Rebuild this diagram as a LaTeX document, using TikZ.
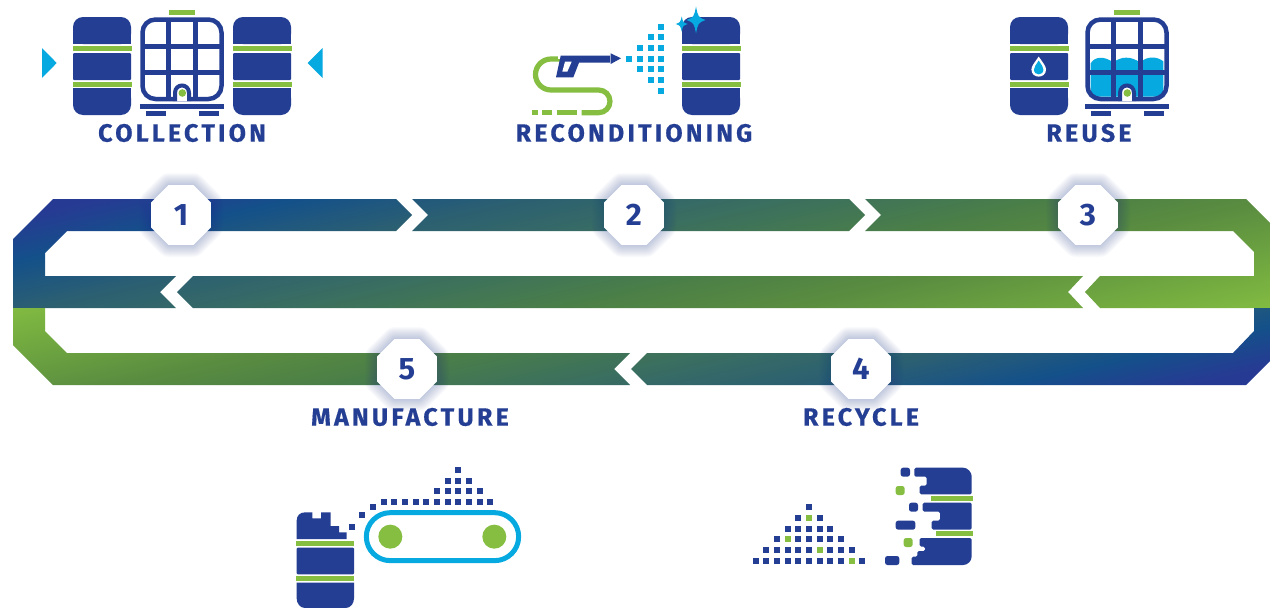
\documentclass[tikz,border=0pt]{standalone}
\usepackage{fontspec}
\usetikzlibrary{shapes.geometric}
\newfontfamily\dinfont[LetterSpace=13,BoldFeatures={FakeBold=0.5}]{Fira Sans}
\newfontfamily\numfont{Fira Sans}
\definecolor{navy}{HTML}{233E93}
\definecolor{leaf}{HTML}{85BE41}
\definecolor{aqua}{HTML}{06A9E0}
\definecolor{ga}{HTML}{273A93}
\definecolor{gb}{HTML}{14508A}
\definecolor{gc}{HTML}{2B5F72}
\definecolor{gd}{HTML}{366A66}
\definecolor{ge}{HTML}{4C8046}
\definecolor{gf}{HTML}{5A8C40}
\definecolor{gg}{HTML}{6DA440}
\definecolor{gh}{HTML}{82BB41}
\pgfdeclareverticalshading{bandgrad}{100bp}{%
  color(0bp)=(gh); color(25bp)=(gh); color(32bp)=(gg); color(39bp)=(gf);
  color(44.7bp)=(ge); color(55.2bp)=(gd); color(60.5bp)=(gc);
  color(66.8bp)=(gb); color(72.5bp)=(ga); color(100bp)=(ga)}
\newcommand{\sparkle}[4]{%
  \fill[aqua] (#1,#2-#4) .. controls (#1+.22*#3,#2-.22*#4) .. (#1+#3,#2)
    .. controls (#1+.22*#3,#2+.22*#4) .. (#1,#2+#4)
    .. controls (#1-.22*#3,#2+.22*#4) .. (#1-#3,#2)
    .. controls (#1-.22*#3,#2-.22*#4) .. cycle;}
\tikzset{
  label text/.style={font=\dinfont\bfseries\fontsize{25}{25}\selectfont,text=navy,inner sep=0pt,anchor=center},
  octa/.style={regular polygon,regular polygon sides=8,minimum size=64.9pt,
    inner sep=0pt,fill=white,text=navy,font=\numfont\bfseries\fontsize{31}{31}\selectfont},
  zoomed/.style={x=0.33333pt,y=-0.33333pt},
  barrelicon/.pic={
    \fill[navy,rounded corners=10pt] (0,0) rectangle (58,27);
    \fill[navy] (0,14) rectangle (58,27);
    \fill[leaf] (-.5,29) rectangle (58.5,34);
    \fill[navy,rounded corners=1pt] (0,36) rectangle (58,63);
    \fill[leaf] (-.5,65) rectangle (58.5,70);
    \fill[navy,rounded corners=10pt] (0,71) rectangle (58,98);
    \fill[navy] (0,71) rectangle (58,85);
  },
  toteicon/.pic={
    \fill[leaf] (29,0) rectangle (55,5);
    \draw[navy,line width=4.5pt,rounded corners=13pt] (2.5,9.5) rectangle (81.5,89);
    \draw[navy,line width=4.5pt] (2.5,36.3) -- (81.5,36.3) (2.5,62.3) -- (81.5,62.3)
      (28.5,9.5) -- (28.5,89) (55.5,9.5) -- (55.5,89);
    \fill[white] (35,91) -- (35,83) .. controls (35,73) and (49,73) .. (49,83) -- (49,91) -- cycle;
    \draw[navy,line width=4pt] (35,91) -- (35,83) .. controls (35,73) and (49,73) .. (49,83) -- (49,91);
    \fill[leaf] (42.3,83) circle[radius=3.8pt];
    \fill[navy] (0,94) rectangle (84,99);
    \fill[navy] (6,101) rectangle (26,106);
    \fill[navy] (59,101) rectangle (79,106);
  }
}
\begin{document}
\begin{tikzpicture}[x=1pt,y=-1pt]
\useasboundingbox (0,0) rectangle (1270,608);
\fill[white] (0,0) rectangle (1270,608);

% ---- upper band
\begin{scope}
\clip (13,308) -- (13,239) -- (53,199) -- (396,199) -- (412,215) -- (396,231) -- (67,231) -- (45,253) -- (45,276) -- (176,276) -- (160,292) -- (176,308) -- cycle
      (412,199) -- (849,199) -- (865,215) -- (849,231) -- (412,231) -- (428,215) -- cycle
      (865,199) -- (1246,199) -- (1270,223) -- (1270,308) -- (1100,308) -- (1085,292) -- (1100,276) -- (1254,276) -- (1254,252) -- (1233,231) -- (865,231) -- (881,215) -- cycle
      (193,276) -- (1083,276) -- (1068,292) -- (1083,308) -- (193,308) -- (177,292) -- cycle;
\begin{scope}[transform canvas={rotate around={12.5:(641,253)}}]
\shade[shading=bandgrad] (-359,63) rectangle (1641,443);
\end{scope}
\end{scope}
% ---- lower band
\begin{scope}
\clip (13,308) -- (45,308) -- (45,331) -- (67,353) -- (630,353) -- (614,369) -- (630,385) -- (53,385) -- (13,345) -- cycle
      (1254,308) -- (1270,308) -- (1270,361) -- (1246,385) -- (647,385) -- (631,369) -- (647,353) -- (1233,353) -- (1254,331) -- cycle;
\begin{scope}[transform canvas={rotate around={192.5:(641,346)}}]
\shade[shading=bandgrad] (-359,172) rectangle (1641,520);
\end{scope}
\end{scope}

% ---- glow round the number plates
\foreach \cx/\cy in {181/215,634/215,1088/215,861/369,407/369}{
  \foreach \w in {2,4,...,24}{
    \draw[navy,opacity=.022,line width=\w pt,line join=round,shift={(\cx,\cy)}]
      (-30,-12.4) -- (-12.4,-30) -- (12.4,-30) -- (30,-12.4) -- (30,12.4) -- (12.4,30) -- (-12.4,30) -- (-30,12.4) -- cycle;
  }
}
\node[octa] (n1) at (181,215) {1};
\node[octa] (n2) at (634,215) {2};
\node[octa] (n3) at (1088,215) {3};
\node[octa] (n4) at (861,369) {4};
\node[octa] (n5) at (407,369) {5};

% ---- labels
\node[label text] (lcollection) at (182,133) {COLLECTION};
\node[label text] (lrecond) at (634,133) {RECONDITIONING};
\node[label text] (lreuse) at (1089,133) {REUSE};
\node[label text] (lmanu) at (410,417) {MANUFACTURE};
\node[label text] (lrecycle) at (861,417) {RECYCLE};

% ---- collection
\fill[aqua] (42,48) -- (42,78) -- (56.7,63) -- cycle;
\fill[aqua] (322.7,48) -- (322.7,78) -- (307.7,63) -- cycle;
\pic at (73,17) {barrelicon};
\pic at (233,17) {barrelicon};
\pic at (140,10) {toteicon};

% ---- reconditioning
\pic at (682,17) {barrelicon};
\draw[leaf,line width=5.2pt] (563,59) -- (551,59) .. controls (542.4,59) and (535.5,66) .. (535.5,74.5)
   .. controls (535.5,83) and (542.4,90) .. (551,90) -- (598.7,90)
   .. controls (605,90) and (610,95.1) .. (610,101.35) .. controls (610,107.6) and (605,112.7) .. (598.7,112.7) -- (581.7,112.7);
\draw[leaf,line width=5.2pt] (556.7,112.7) -- (576.7,112.7) (542.3,112.7) -- (551.7,112.7) (532.3,112.7) -- (538.3,112.7);
\fill[white] (558,54) rectangle (566,59);
\fill[navy] (560.7,55.7) -- (556,77.3) -- (573.3,77.3) -- (579,62.7) -- (610,62.7) -- (610,55.7) -- cycle;
\fill[white] (565,61.7) -- (571.7,61.7) -- (567.3,71.7) -- (562.3,71.7) -- cycle;
\fill[navy] (610.7,53.3) -- (621,58.3) -- (610.7,64) -- cycle;
\foreach \x/\y in {629/59,640/48,640/59,640/69,651/37,651/48,651/59,651/69,651/80,661/26.7,661/37,661/48,661/59,661/69,661/80,661/91}{
  \fill[aqua] (\x-3,\y-3) rectangle (\x+3,\y+3);
}
\sparkle{696}{20}{9.5}{13.5}
\sparkle{681.7}{24}{6}{7.5}

% ---- reuse
\pic at (1010,17) {barrelicon};
\fill[white] (1038.7,56.5) .. controls (1043,63) and (1046,66) .. (1046,69.5) .. controls (1046,79) and (1031.4,79) .. (1031.4,69.5) .. controls (1031.4,66) and (1034.4,63) .. (1038.7,56.5) -- cycle;
\fill[aqua] (1038.7,60.5) .. controls (1041.5,65) and (1043.4,67) .. (1043.4,69.5) .. controls (1043.4,76) and (1034,76) .. (1034,69.5) .. controls (1034,67) and (1035.9,65) .. (1038.7,60.5) -- cycle;
\begin{scope}[shift={(1000,0)},zoomed]
\fill[aqua] (272,190) .. controls (285,168) and (315,168) .. (340,188)
   .. controls (362,168) and (395,168) .. (420,188)
   .. controls (440,168) and (470,168) .. (490,184)
   -- (490,265) .. controls (490,282) and (480,290) .. (465,290)
   -- (297,290) .. controls (282,290) and (272,282) .. (272,265) -- cycle;
\end{scope}
\pic at (1085,10) {toteicon};

% ---- manufacture
\begin{scope}[shift={(280,455)},zoomed]
\fill[navy] (50,252) -- (50,197) .. controls (50,182) and (60,172) .. (75,172) -- (97,172) -- (97,190) -- (123,190) -- (123,172) -- (152,172) -- (152,213) -- (177,213) -- (177,232) -- (200,232) -- (200,252) -- cycle;
\fill[leaf] (48,258) rectangle (222,273);
\fill[navy,rounded corners=1pt] (50,278) rectangle (222,358);
\fill[leaf] (48,363) rectangle (222,378);
\fill[navy] (50,383) -- (222,383) -- (222,430) .. controls (222,445) and (212,459) .. (197,459) -- (75,459) .. controls (60,459) and (50,445) .. (50,430) -- cycle;
\foreach \x/\y in {216/215,246/179,279/155,312/141,342/141,375/141,408/141,438/141,471/141,504/141,534/141,567/141,600/141,630/141,471/108,504/108,534/108,567/108,600/108,504/78,534/78,567/78,534/45}{
  \fill[navy] (\x-9,\y-9) rectangle (\x+9,\y+9);
}
\draw[aqua,line width=5pt,rounded corners=24pt] (259,173) rectangle (716,317);
\fill[leaf] (331,245) circle[radius=12pt];
\fill[leaf] (643,245) circle[radius=12pt];
\end{scope}

% ---- recycle
\begin{scope}[shift={(740,455)},zoomed]
\foreach \x/\y in {207/155,174/188,240/188,144/221,174/221,207/221,240/221,270/221,111/252,174/252,207/252,240/252,270/252,303/252,78/285,111/285,144/285,174/285,207/285,270/285,303/285,336/285,48/318,78/318,111/318,144/318,174/318,207/318,240/318,270/318,303/318,366/318}{
  \fill[navy] (\x-9,\y-9) rectangle (\x+9,\y+9);
}
\foreach \x/\y in {207/188,144/252,240/285,336/318}{
  \fill[leaf] (\x-9,\y-9) rectangle (\x+9,\y+9);
}
\fill[navy,rounded corners=1.5pt] (523,38) -- (665,38) .. controls (683,38) and (695,52) .. (695,68) -- (695,118) -- (539,118) -- (539,92) -- (560,92) -- (560,65) -- (523,65) -- cycle;
\fill[navy,rounded corners=2.5pt] (482,38) rectangle (510,65);
\fill[leaf,rounded corners=2.5pt] (467,93) rectangle (494,120);
\fill[leaf] (573,123) rectangle (699,138);
\fill[navy,rounded corners=1.5pt] (548,143) -- (695,143) -- (695,224) -- (575,224) -- (575,197) -- (600,197) -- (600,170) -- (548,170) -- cycle;
\fill[navy,rounded corners=2.5pt] (507,143) rectangle (534,170);
\fill[navy,rounded corners=2.5pt] (467,197) rectangle (526,224);
\fill[leaf] (588,228) rectangle (699,243);
\fill[navy,rounded corners=1.5pt] (539,249) -- (695,249) -- (695,300) .. controls (695,318) and (683,330) .. (665,330) -- (515,330) -- (515,305) -- (532,305) -- (532,288) -- (555,288) -- (555,275) -- (539,275) -- cycle;
\fill[leaf,rounded corners=2.5pt] (491,249) rectangle (518,276);
\fill[navy,rounded corners=2.5pt] (435,303) rectangle (478,330);
\end{scope}
\end{tikzpicture}
\end{document}
